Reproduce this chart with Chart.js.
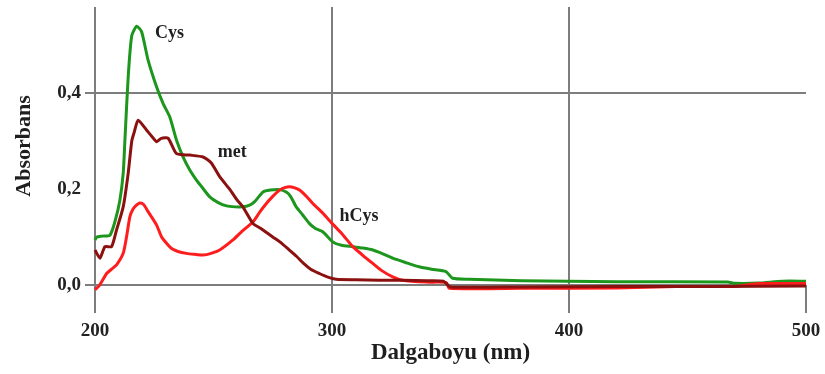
<!DOCTYPE html>
<html>
<head>
<meta charset="utf-8">
<script src="https://cdn.jsdelivr.net/npm/chart.js@4.4.1/dist/chart.umd.min.js"></script>
<style>
  html, body { margin: 0; padding: 0; background: #fff; }
  #wrap { width: 825px; height: 374px; }
</style>
</head>
<body>
<div id="wrap"><canvas id="spectra" width="825" height="374"></canvas></div>
<script>
// UV spectra: wavelength (nm) and absorbance for each sample
const cysNm = [200, 200.7, 203, 206.3, 208.4, 210.5, 211.9, 212.6, 214, 215.5, 217.6, 219.7, 222.4, 226, 228.8,
  231.6, 234.4, 237.2, 240, 242.8, 245, 248.4, 252, 255.5, 259, 262.4, 265, 267.4, 270.9, 274, 277.9, 280.7,
  282.5, 284.9, 287.5, 290.5, 293, 296.1, 300.3, 304, 308.8, 313, 317.2, 321, 325.6, 331, 336.8, 342, 348.1,
  350.9, 357.9, 380, 420, 467, 470, 480, 490, 500];
const cysAbs = [0.094, 0.100, 0.102, 0.104, 0.132, 0.177, 0.233, 0.300, 0.434, 0.520, 0.540, 0.528, 0.469, 0.413, 0.378,
  0.350, 0.302, 0.267, 0.240, 0.219, 0.205, 0.184, 0.172, 0.165, 0.163, 0.163, 0.166, 0.174, 0.194, 0.198, 0.199, 0.194,
  0.185, 0.163, 0.147, 0.128, 0.118, 0.111, 0.090, 0.083, 0.080, 0.077, 0.073, 0.066, 0.056, 0.047, 0.038, 0.033, 0.028,
  0.014, 0.012, 0.009, 0.007, 0.006, 0.0035, 0.004, 0.008, 0.008];

const metNm = [200, 202.1, 204.2, 207, 209.1, 211.9, 214, 215.5, 216.5, 218.2, 221.8, 224, 226, 228, 230.9, 234.4,
  240, 245.6, 249, 252.6, 256.8, 260, 262.4, 266.7, 270, 275, 278, 282, 285, 288, 291, 294.7, 298, 301.8, 310,
  320, 330, 340, 347, 350, 380, 420, 460, 500];
const metAbs = [0.073, 0.056, 0.080, 0.080, 0.115, 0.163, 0.233, 0.300, 0.318, 0.344, 0.323, 0.310, 0.299, 0.306, 0.306, 0.274,
  0.271, 0.267, 0.255, 0.226, 0.200, 0.177, 0.163, 0.128, 0.118, 0.100, 0.090, 0.073, 0.060, 0.045, 0.033, 0.024, 0.017, 0.012, 0.011,
  0.010, 0.010, 0.009, 0.008, -0.004, -0.004, -0.003, -0.003, -0.002];

const hcysNm = [200, 202, 204.9, 207, 209.1, 211.9, 213.3, 214.7, 216, 217.6, 218.9, 220.5, 222.4, 226, 228.1, 230,
  232.3, 235, 238.6, 242, 245.6, 249, 252.6, 258.2, 262, 266.7, 269.5, 272.3, 275, 277.9, 280, 282.1, 284, 286.3,
  289, 291.9, 296.1, 300.3, 304, 308.8, 313, 317.2, 321, 325.6, 329.8, 340, 348.2, 349.5, 380, 420, 445, 470, 480, 500];
const hcysAbs = [-0.010, 0.000, 0.024, 0.033, 0.042, 0.066, 0.100, 0.142, 0.158, 0.167, 0.171, 0.168, 0.153, 0.125, 0.100, 0.088,
  0.076, 0.070, 0.066, 0.064, 0.0625, 0.066, 0.073, 0.094, 0.112, 0.132, 0.152, 0.170, 0.185, 0.198, 0.203, 0.205, 0.203, 0.198,
  0.186, 0.170, 0.150, 0.127, 0.108, 0.080, 0.062, 0.045, 0.030, 0.017, 0.010, 0.006, 0.005, -0.007, -0.007, -0.006, -0.003, -0.003, 0.003, 0.003];

const xTicks = [200, 300, 400, 500];
const yTicks = [0, 0.2, 0.4];

// curve names written next to each trace (wavelength, absorbance of the text anchor)
const curveLabels = [
  { text: 'Cys', nm: 225.3, abs: 0.525 },
  { text: 'met', nm: 251.8, abs: 0.277 },
  { text: 'hCys', nm: 303.2, abs: 0.144 }
];

const serif = '"Liberation Serif", "DejaVu Serif", serif';
const gridGray = '#7d7d7d';
const none = 'rgba(0,0,0,0)';

function toPoints(xs, ys) {
  return xs.map((x, i) => ({ x: x, y: ys[i] }));
}

const curveNames = {
  id: 'curveNames',
  afterDatasetsDraw(chart) {
    const ctx = chart.ctx;
    const xs = chart.scales.x, ys = chart.scales.y;
    ctx.save();
    ctx.font = 'bold 18px ' + serif;
    ctx.fillStyle = '#1e1e1e';
    ctx.textAlign = 'left';
    ctx.textBaseline = 'middle';
    curveLabels.forEach(l => {
      ctx.fillText(l.text, xs.getPixelForValue(l.nm), ys.getPixelForValue(l.abs));
    });
    ctx.restore();
  }
};

const line = (label, xs, ys, color) => ({
  label: label,
  data: toPoints(xs, ys),
  borderColor: color,
  borderWidth: 3,
  pointRadius: 0,
  tension: 0.2,
  fill: false,
  clip: false
});

new Chart(document.getElementById('spectra'), {
  type: 'line',
  data: {
    datasets: [
      line('met', metNm, metAbs, '#8b1010'),
      line('hCys', hcysNm, hcysAbs, '#ff1c1c'),
      line('Cys', cysNm, cysAbs, '#1c961c')
    ]
  },
  options: {
    responsive: false,
    animation: false,
    events: [],
    layout: { padding: { top: 7, right: 19, left: 0, bottom: 0 } },
    plugins: { legend: { display: false }, tooltip: { enabled: false } },
    scales: {
      x: {
        type: 'linear',
        min: 200,
        max: 500,
        afterBuildTicks: s => { s.ticks = xTicks.map(v => ({ value: v })); },
        afterFit: s => { s.height = 89; s.paddingLeft = 0; s.paddingRight = 0; },
        border: { display: false },
        grid: {
          lineWidth: 2,
          tickLength: 28,
          color: c => (c.tick && c.tick.value === 500 ? none : gridGray),
          tickColor: gridGray
        },
        ticks: {
          padding: 7,
          color: '#222',
          font: { family: serif, size: 19, weight: 'bold' },
          callback: v => String(v)
        },
        title: {
          display: true,
          text: 'Dalgaboyu (nm)',
          color: '#1e1e1e',
          font: { family: serif, size: 23, weight: 'bold' },
          padding: { top: 0, bottom: 7 }
        }
      },
      y: {
        min: 0,
        max: 0.58,
        afterBuildTicks: s => { s.ticks = yTicks.map(v => ({ value: v })); },
        afterFit: s => { s.width = 95; s.paddingTop = 0; s.paddingBottom = 0; },
        border: { display: false },
        grid: {
          lineWidth: 2,
          tickLength: 10,
          color: c => (c.tick && Math.abs(c.tick.value - 0.2) < 1e-9 ? none : gridGray),
          tickColor: c => (c.tick && Math.abs(c.tick.value - 0.2) < 1e-9 ? none : gridGray)
        },
        ticks: {
          padding: 4,
          color: '#222',
          font: { family: serif, size: 19, weight: 'bold' },
          callback: v => v.toFixed(1).replace('.', ',')
        },
        title: {
          display: true,
          text: 'Absorbans',
          color: '#1e1e1e',
          font: { family: serif, size: 22, weight: 'bold' },
          padding: { top: 11, bottom: 0 }
        }
      }
    }
  },
  plugins: [curveNames]
});
</script>
</body>
</html>
